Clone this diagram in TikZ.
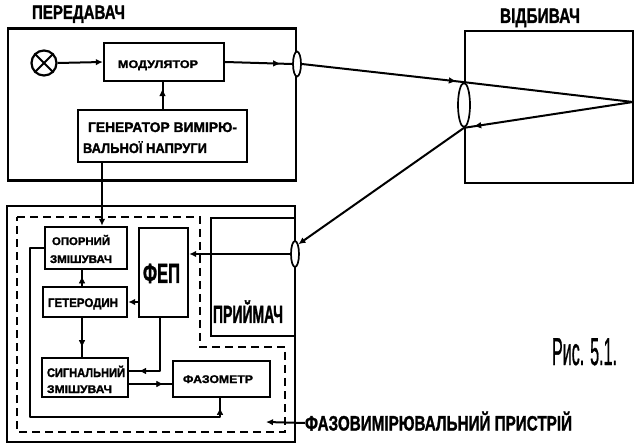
\documentclass[tikz,border=0pt]{standalone}
\usepackage{fontspec}
\setmainfont{Liberation Sans}
\newfontfamily\blockfont[FakeBold=1.6]{Liberation Sans Bold}
\newfontfamily\handfont[FakeBold=1.2]{Liberation Sans}
\usetikzlibrary{arrows.meta,decorations.markings,shapes.geometric}
% fitted text: width, height
\newcommand\fittext[3]{\resizebox{#1pt}{#2pt}{\raisebox{0pt}[7.2pt][0pt]{#3}}}
% zero-size text line inside a box: left and bottom offsets from the box centre, width, height, text
\newcommand\boxline[5]{\smash{\makebox[0pt][l]{\hspace*{#1pt}\raisebox{#2pt}{\fittext{#3}{#4}{\blockfont #5}}}}}
\tikzset{
  x=1pt,y=-1pt,
  wire/.style={line width=2pt,line join=round},
  frame/.style={draw,line width=2.2pt,inner sep=0pt},
  blockbox/.style={draw,line width=2.3pt,inner sep=0pt,fill=white},
  lensshape/.style={ellipse,draw,line width=1.7pt,fill=white,inner sep=0pt},
  tag/.style={inner sep=0pt},
  tipat/.style={postaction={decorate},decoration={markings,mark=at position #1 with {\arrow[line width=0.6pt]{Latex[length=7pt,width=6.5pt]}}}},
  tipend/.style={-{Latex[length=7pt,width=6.5pt]}},
  dashline/.style={line width=2pt,dash pattern=on 8pt off 5pt,line join=miter}
}
\begin{document}
\begin{tikzpicture}
\useasboundingbox (0,0) rectangle (640,446);

% frames
\node[frame,minimum width=288pt,minimum height=152pt] (tx) at (152,104.5) {};
\node[frame,minimum width=168pt,minimum height=152pt] (refl) at (549,107) {};
\node[frame,minimum width=288pt,minimum height=236pt] (meter) at (151,324) {};
\node[blockbox,minimum width=84pt,minimum height=118pt] (rx) at (253,277)
  {\boxline{-40}{-46}{70}{18}{ПРИЙМАЧ}};

% dashed boundary of the phase measuring device
\coordinate (d1) at (17,217);
\coordinate (d2) at (200,217);
\coordinate (d3) at (200,347);
\coordinate (d4) at (285,347);
\coordinate (d5) at (285,432);
\coordinate (d6) at (17,432);
\draw[dashline] (d1) -- (d2) -- (d3) -- (d4) -- (d5) -- (d6) -- cycle;

% transmitter
\node[circle,draw,line width=2.2pt,minimum size=25pt,inner sep=0pt] (lamp) at (44,63) {};
\draw[wire] (lamp.45) -- (lamp.225) (lamp.135) -- (lamp.315);
\node[blockbox,minimum width=120pt,minimum height=38pt] (mod) at (164,62)
  {\boxline{-46}{-6}{80}{8}{МОДУЛЯТОР}};
\node[blockbox,minimum width=169pt,minimum height=52pt] (gen) at (162.5,136)
  {\boxline{-74.5}{4}{149}{10}{ГЕНЕРАТОР ВИМІРЮ-}\boxline{-79.5}{-17}{124}{10}{ВАЛЬНОЇ НАПРУГИ}};

% measuring device blocks
\node[blockbox,minimum width=82pt,minimum height=42pt] (refmix) at (86,248)
  {\boxline{-34}{3}{58}{8}{ОПОРНИЙ}\boxline{-36}{-15}{62}{8}{ЗМІШУВАЧ}};
\node[blockbox,minimum width=84pt,minimum height=30pt] (het) at (85,302)
  {\boxline{-37}{-5}{70}{9}{ГЕТЕРОДИН}};
\node[blockbox,minimum width=49pt,minimum height=89pt] (fep) at (163.5,272.5)
  {\boxline{-20.5}{-10.5}{37}{20}{ФЕП}};
\node[blockbox,minimum width=86pt,minimum height=39pt] (sigmix) at (85,377.5)
  {\boxline{-38}{0.5}{78}{9}{СИГНАЛЬНИЙ}\boxline{-38}{-15.5}{65}{8}{ЗМІШУВАЧ}};
\node[blockbox,minimum width=97pt,minimum height=36pt] (phase) at (221.5,379)
  {\boxline{-38.5}{-4}{70}{8}{ФАЗОМЕТР}};

% lenses
\node[lensshape,minimum width=8pt,minimum height=25pt] (txlens) at (297,64) {};
\node[lensshape,minimum width=12pt,minimum height=44pt] (rlens) at (464,105) {};
\node[lensshape,minimum width=8pt,minimum height=26pt] (rxlens) at (295,254) {};
\coordinate (focus) at (633,102);

% labels outside blocks
\node[tag] (ltx) at (78.5,12) {\fittext{93}{14}{\blockfont ПЕРЕДАВАЧ}};
\node[tag] (lrefl) at (540,15.5) {\fittext{80}{15}{\blockfont ВІДБИВАЧ}};
\node[tag] (lmeter) at (438.5,423) {\fittext{267}{15}{\blockfont ФАЗОВИМІРЮВАЛЬНИЙ ПРИСТРІЙ}};
\node[tag] (lfig) at (584.5,351) {\fittext{65}{28}{\handfont Рис. 5.1.}};

% connectors inside transmitter
\draw[wire,tipend] (lamp.east) -- (mod.west);
\draw[wire,tipat=0.82] (mod.east) -- (txlens.west);
\draw[wire,tipat=0.72] (gen.north |- 0,110) -- (gen.north |- 0,81);
\draw[wire,tipend] (gen.south -| 102,0) -- (refmix.north -| 102,0);

% optical path
\draw[wire,tipat=0.95] (txlens.east) -- (rlens.north);
\draw[wire] (rlens.north) -- (focus);
\draw[wire,tipat=0.94] (focus) -- (rlens.south);
\draw[wire,tipend] (rlens.south) -- (rxlens.north east);

% connectors inside measuring device
\draw[wire,tipend] (rxlens.west) -- (rxlens.west -| fep.east);
\draw[wire,tipend] (fep.west |- het.east) -- (het.east);
\draw[wire,tipat=0.6] (het.north -| 82,0) -- (refmix.south -| 82,0);
\draw[wire,tipat=0.75] (het.south -| 82,0) -- (sigmix.north -| 82,0);
\draw[wire,tipat=0.88] (fep.south -| 160,0) -- (160,371) -- (sigmix.east |- 0,371);
\draw[wire,tipat=0.8] (sigmix.east |- 0,384) -- (phase.west |- 0,384);
\draw[wire,tipat=0.975] (refmix.west) -- (30,248) -- (30,417) -- (220,417) -- (phase.south -| 220,0);
\draw[wire,tipend] (lmeter.west) -- (266,422);
\end{tikzpicture}
\end{document}
